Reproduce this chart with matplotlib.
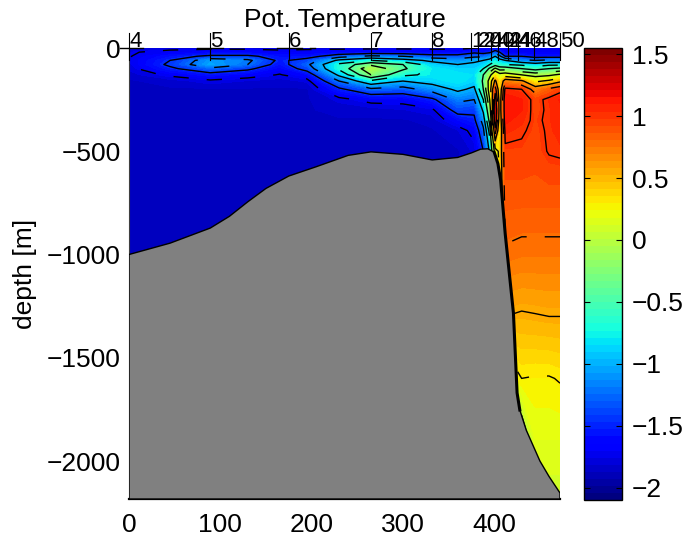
import numpy as np
import matplotlib
matplotlib.use('Agg')
import matplotlib.pyplot as plt
from matplotlib.colors import Normalize

plt.rcParams['font.family'] = ['Liberation Sans', 'DejaVu Sans']

IMAGE_WIDTH = 685
IMAGE_HEIGHT = 541

# section grid
depth = [0, 20, 40, 60, 80, 100, 130, 160, 200, 250, 300, 350, 400, 500, 700, 1000, 1300, 1600, 1900, 2200]
dist = [0, 45, 89, 130, 165, 195, 230, 265, 300, 332, 360, 378, 388, 395, 401, 406, 412, 430, 445, 460, 472]

# potential temperature per column of the section
t000 = [-1.78, -1.76, -1.76, -1.76, -1.78, -1.8, -1.85, -1.88, -1.88, -1.88, -1.88, -1.88, -1.88, -1.88, -1.88, -1.88, -1.88, -1.88, -1.88, -1.88]
t045 = [-1.78, -1.72, -1.6, -1.5, -1.45, -1.55, -1.72, -1.85, -1.88, -1.88, -1.88, -1.88, -1.88, -1.88, -1.88, -1.88, -1.88, -1.88, -1.88, -1.88]
t089 = [-1.78, -1.68, -1.45, -1.1, -1.05, -1.3, -1.6, -1.78, -1.88, -1.88, -1.88, -1.88, -1.88, -1.88, -1.88, -1.88, -1.88, -1.88, -1.88, -1.88]
t130 = [-1.78, -1.68, -1.45, -1.2, -1.25, -1.45, -1.68, -1.82, -1.88, -1.88, -1.88, -1.88, -1.88, -1.88, -1.88, -1.88, -1.88, -1.88, -1.88, -1.88]
t165 = [-1.78, -1.72, -1.6, -1.55, -1.6, -1.68, -1.76, -1.85, -1.88, -1.88, -1.88, -1.88, -1.88, -1.88, -1.88, -1.88, -1.88, -1.88, -1.88, -1.88]
t195 = [-1.78, -1.7, -1.6, -1.4, -1.3, -1.4, -1.65, -1.8, -1.88, -1.88, -1.88, -1.88, -1.88, -1.88, -1.88, -1.88, -1.88, -1.88, -1.88, -1.88]
t230 = [-1.78, -1.68, -1.35, -0.95, -0.7, -0.7, -0.95, -1.25, -1.55, -1.8, -1.85, -1.88, -1.88, -1.88, -1.88, -1.88, -1.88, -1.88, -1.88, -1.88]
t265 = [-1.78, -1.65, -1.2, -0.75, -0.3, -0.05, -0.25, -0.8, -1.3, -1.7, -1.85, -1.88, -1.88, -1.88, -1.88, -1.88, -1.88, -1.88, -1.88, -1.88]
t300 = [-1.78, -1.65, -1.25, -0.9, -0.5, -0.45, -0.7, -1.0, -1.35, -1.7, -1.82, -1.88, -1.88, -1.88, -1.88, -1.88, -1.88, -1.88, -1.88, -1.88]
t332 = [-1.78, -1.68, -1.4, -1.05, -0.9, -0.8, -0.8, -0.9, -1.15, -1.55, -1.78, -1.85, -1.88, -1.88, -1.88, -1.88, -1.88, -1.88, -1.88, -1.88]
t360 = [-1.78, -1.68, -1.4, -1.15, -1.0, -0.9, -0.8, -0.8, -0.95, -1.2, -1.4, -1.65, -1.82, -1.88, -1.88, -1.88, -1.88, -1.88, -1.88, -1.88]
t378 = [-1.76, -1.55, -1.3, -1.05, -0.95, -0.9, -0.85, -0.9, -1.05, -1.25, -1.45, -1.55, -1.7, -1.8, -1.85, -1.85, -1.85, -1.85, -1.85, -1.85]
t388 = [-1.74, -1.6, -1.3, -1.0, -0.9, -0.75, -0.5, -0.45, -0.5, -0.75, -0.95, -1.15, -1.3, -1.5, -1.7, -1.7, -1.7, -1.7, -1.7, -1.7]
t395 = [-1.7, -1.55, -1.2, -0.9, -0.75, -0.45, -0.1, 0.15, 0.15, 0.0, -0.2, -0.4, -0.65, -0.95, -1.2, -1.2, -1.2, -1.2, -1.2, -1.2]
t401 = [-1.65, -1.4, -1.0, -0.8, -0.6, -0.2, 0.3, 0.6, 0.9, 1.15, 1.3, 1.25, 0.9, 0.2, -0.3, -0.5, -0.5, -0.5, -0.5, -0.5]
t406 = [-1.7, -1.5, -1.2, -0.9, -0.7, -0.35, 0.1, 0.3, 0.35, 0.4, 0.4, 0.35, 0.3, 0.35, 0.3, 0.3, 0.2, -0.1, -0.2, -0.2]
t412 = [-1.72, -1.72, -1.5, -1.0, -0.75, -0.35, 0.15, 0.7, 1.05, 1.15, 1.15, 1.12, 1.05, 0.97, 0.9, 0.78, 0.55, 0.1, -0.2, -0.2]
t430 = [-1.72, -1.72, -1.5, -1.2, -0.8, -0.5, 0.0, 0.6, 1.0, 1.1, 1.1, 1.05, 1.02, 0.97, 0.9, 0.76, 0.53, 0.3, -0.2, -0.2]
t445 = [-1.72, -1.72, -1.6, -1.25, -0.9, -0.6, -0.1, 0.25, 0.7, 0.95, 0.95, 0.97, 0.96, 0.95, 0.9, 0.76, 0.54, 0.29, 0.18, 0.08]
t460 = [-1.72, -1.72, -1.6, -1.2, -0.8, -0.5, -0.05, 0.35, 0.85, 1.04, 1.03, 1.03, 1.02, 1.01, 0.9, 0.76, 0.55, 0.29, 0.18, 0.08]
t472 = [-1.72, -1.72, -1.6, -1.2, -0.8, -0.45, 0.05, 0.5, 0.95, 1.1, 1.08, 1.08, 1.07, 1.02, 0.9, 0.76, 0.55, 0.31, 0.18, 0.08]

# bottom topography
bathy_x = [0, 45, 89, 110, 130, 150, 175, 205, 240, 265, 300, 332, 360, 375, 385, 393, 400, 404, 407, 412, 421, 425, 428, 435, 443, 450, 460, 472]
bathy_z = [-1000, -945, -872, -815, -745, -680, -620, -575, -520, -503, -515, -542, -530, -508, -490, -488, -505, -560, -640, -900, -1283, -1670, -1753, -1850, -1930, -2000, -2075, -2155]

# stations along the top
stn_x = [0, 89, 175, 265, 332, 375, 382, 396, 404, 415, 426, 444, 472]
stn_labels = ['4', '5', '6', '7', '8', '12', '20', '40', '42', '44', '46', '48', '50']

# dashes of the surface contour
surf_x0 = [-10, 74, 162, 198]
surf_x1 = [15, 103, 189, 204]

xticks = [0, 100, 200, 300, 400]
yticks = [0, -500, -1000, -1500, -2000]
yticklabels = ['0', '\u2212500', '\u22121000', '\u22121500', '\u22122000']
cticks = [-2, -1.5, -1, -0.5, 0, 0.5, 1, 1.5]
cticklabels = ['\u22122', '\u22121.5', '\u22121', '\u22120.5', '0', '0.5', '1', '1.5']

VMIN = -2.1
VMAX = 1.55
FS = 19


def box(left, top, right, bottom):
    # pixel box to figure fractions
    return [left / IMAGE_WIDTH, 1 - bottom / IMAGE_HEIGHT,
            (right - left) / IMAGE_WIDTH, (bottom - top) / IMAGE_HEIGHT]


fig = plt.figure(figsize=(IMAGE_WIDTH / 100, IMAGE_HEIGHT / 100), dpi=100)
ax = fig.add_axes(box(129, 48, 560, 499))

theta = np.column_stack([t000, t045, t089, t130, t165, t195, t230, t265, t300, t332, t360,
                         t378, t388, t395, t401, t406, t412, t430, t445, t460, t472])
X, Z = np.meshgrid(dist, -np.array(depth))

norm = Normalize(VMIN, VMAX)
ax.contourf(X, Z, theta, levels=np.linspace(VMIN, VMAX, 65), cmap='jet', norm=norm)
ax.contour(X, Z, theta, levels=[-1.5, -1, -0.5, 0, 0.55, 1], colors='k', linewidths=1.0,
           linestyles='solid')
ax.contour(X, Z, theta, levels=[-1.75, -1.25, -0.75, -0.25, 0.3, 0.8], colors='k', linewidths=1.0,
           linestyles=[(0, (11, 13))])

ax.fill(bathy_x + [472, 0], bathy_z + [-2184, -2184], facecolor='#808080', edgecolor='k',
        linewidth=1.0, zorder=3)
# contours crowd along the steep slope
ax.plot(bathy_x[16:23], bathy_z[16:23], color='k', lw=2.2, zorder=4)

# station ticks stick out over the top of the section
for sx, lab in zip(stn_x, stn_labels):
    ax.plot([sx, sx], [72, -58], color='k', lw=0.8, clip_on=False, zorder=4)
    ax.text(sx, 3, lab, fontsize=16, ha='left', va='baseline', zorder=5)
for x0, x1 in zip(surf_x0, surf_x1):
    ax.plot([x0, x1], [0, 0], color='k', lw=1.0, clip_on=False, zorder=4)

ax.set_xlim(0, 472)
ax.set_ylim(-2184, 0)
ax.set_xticks(xticks)
ax.set_yticks(yticks)
ax.set_yticklabels(yticklabels)
ax.tick_params(length=0, labelsize=FS, pad=6)
ax.tick_params(axis='x', pad=10)
ax.set_ylabel('depth [m]', fontsize=FS, labelpad=7)
ax.set_title('Pot. Temperature', fontsize=FS, pad=15)
for side in ['top', 'right']:
    ax.spines[side].set_visible(False)
ax.spines['left'].set_linewidth(0.8)
ax.spines['left'].set_color('#404040')
ax.spines['bottom'].set_linewidth(1.6)

cax = fig.add_axes(box(584, 48, 622, 500))
sm = plt.cm.ScalarMappable(norm=norm, cmap=plt.get_cmap('jet', 64))
cb = fig.colorbar(sm, cax=cax)
cb.set_ticks(cticks)
cb.set_ticklabels(cticklabels)
cax.tick_params(direction='in', length=4, width=0.8, labelsize=FS, pad=7, left=True, right=True)
cb.outline.set_linewidth(1.0)

fig.savefig('out.png', dpi=100)
